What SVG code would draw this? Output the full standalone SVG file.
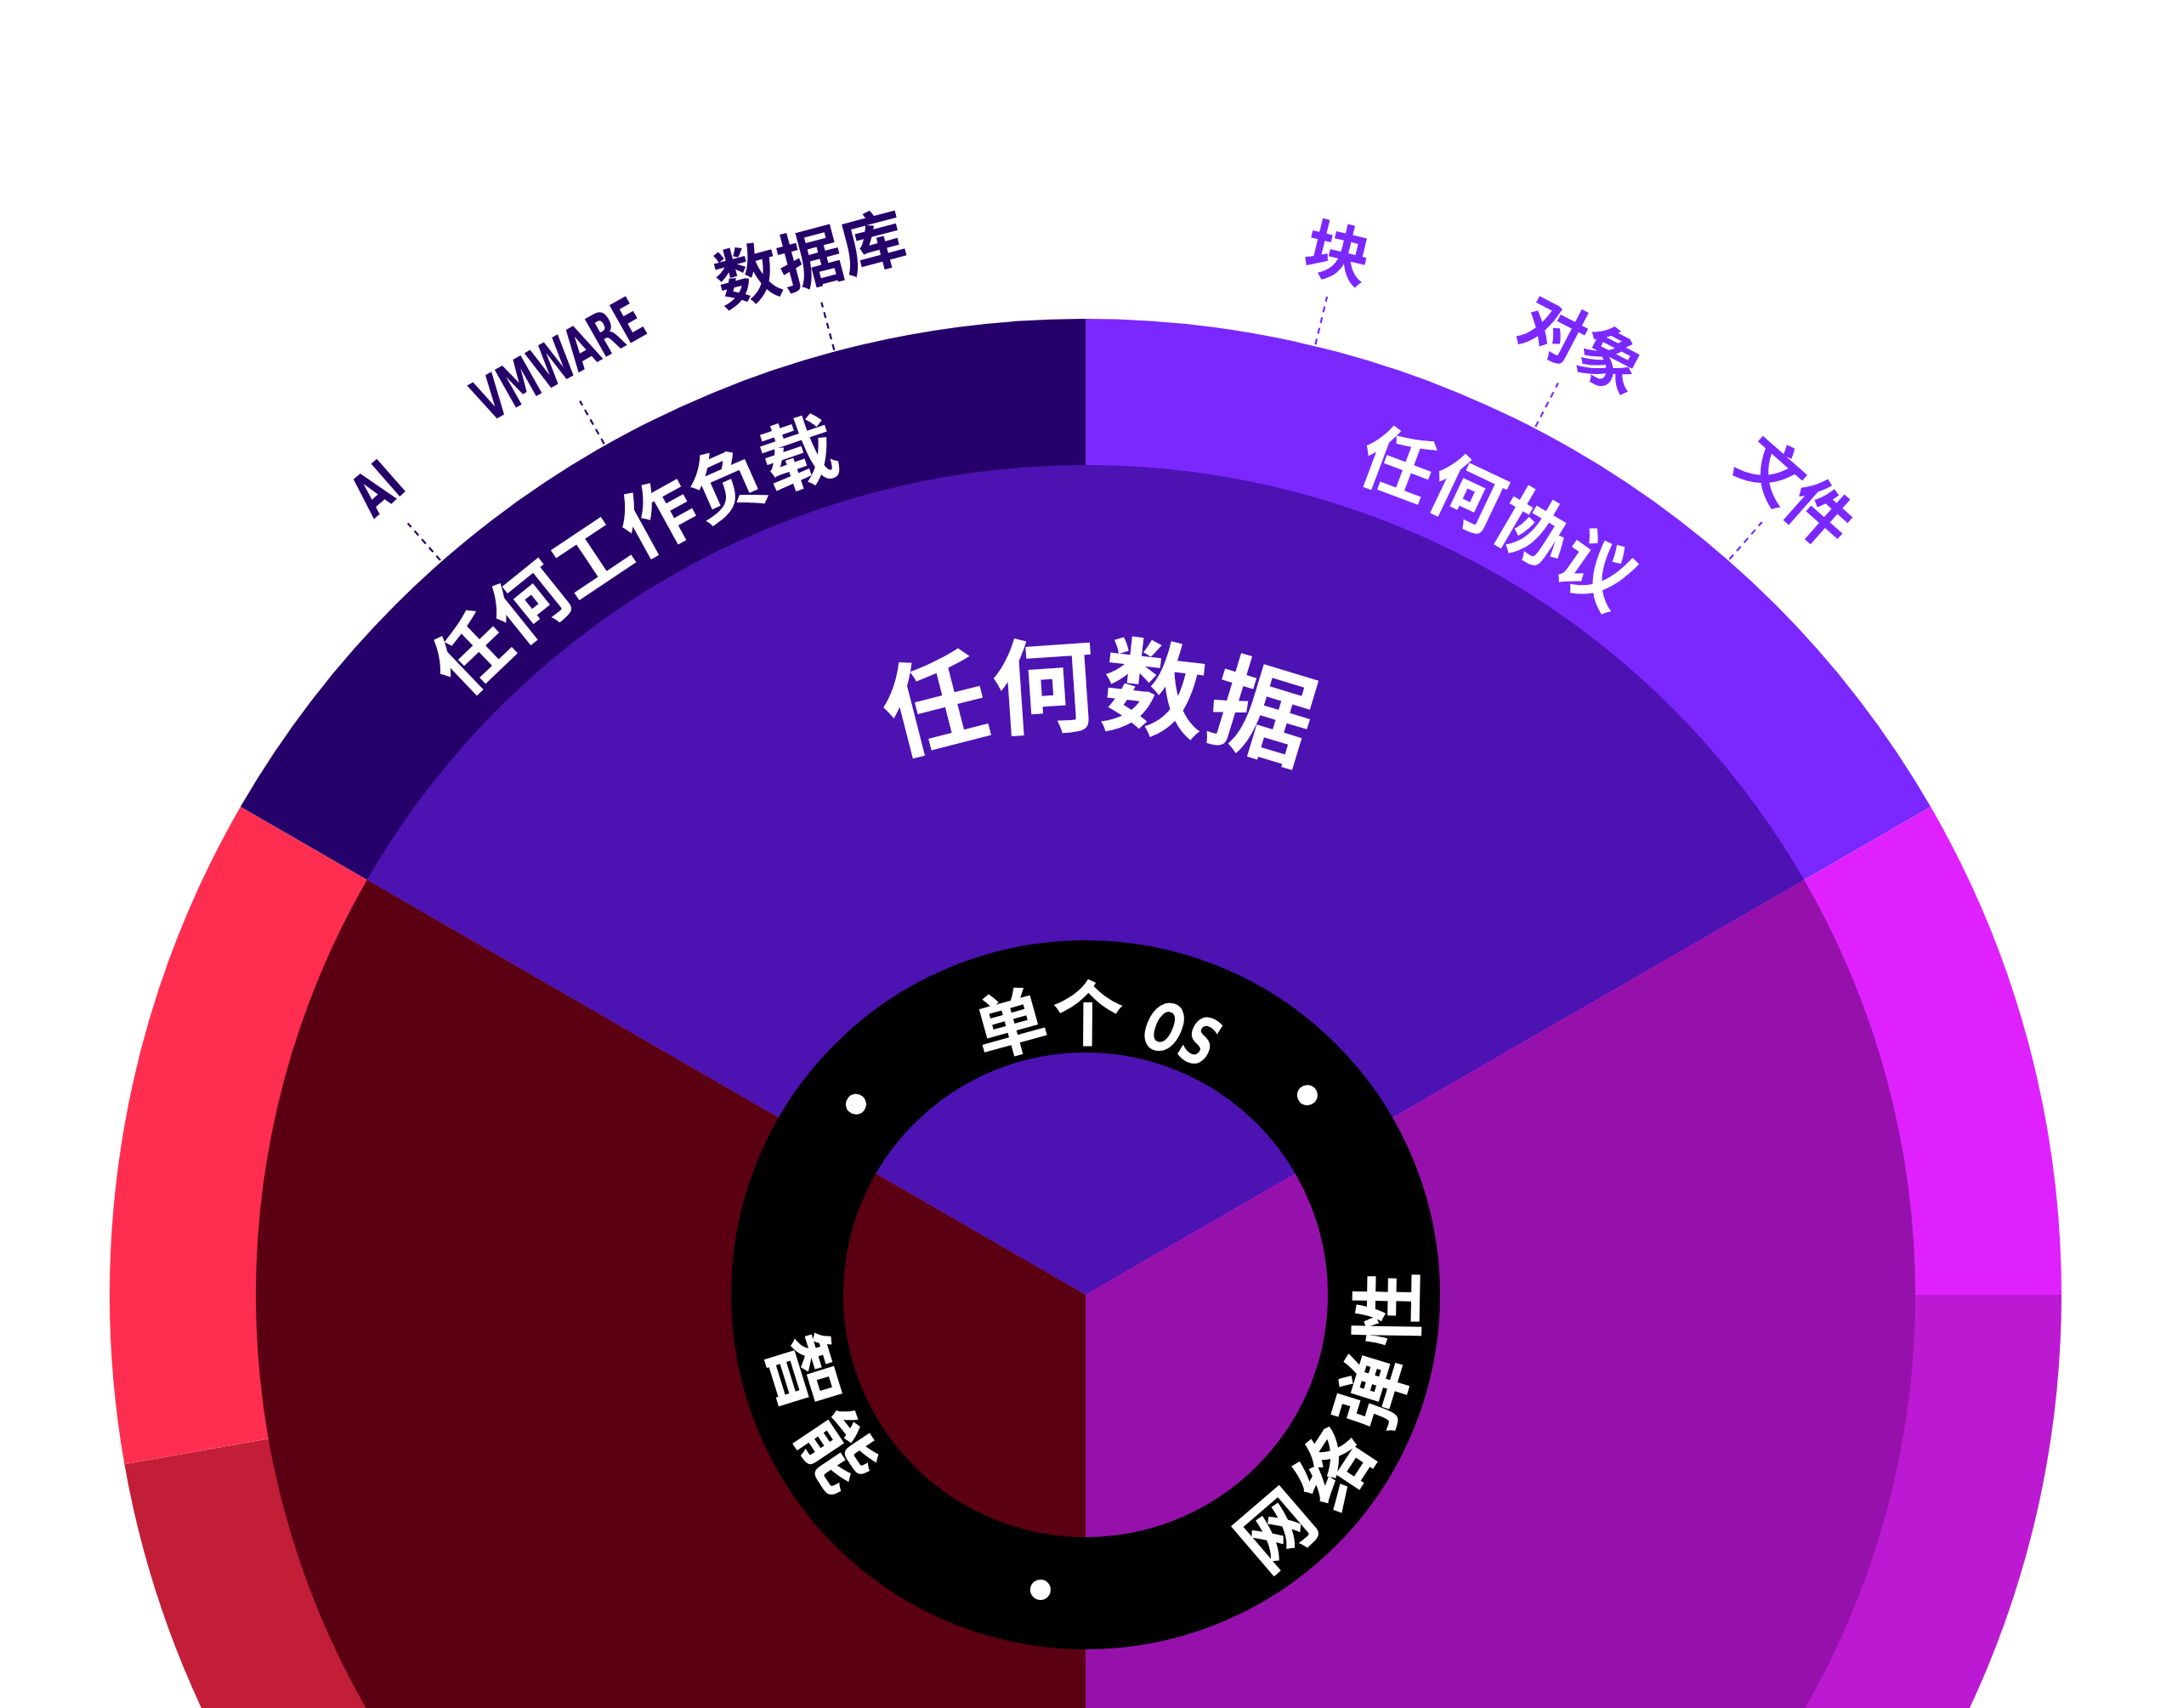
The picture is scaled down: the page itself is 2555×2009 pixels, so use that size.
<svg xmlns="http://www.w3.org/2000/svg" width="2555" height="2009" viewBox="0 0 2555 2009">
<style>
.cjk{font-family:"Noto Sans CJK SC","Noto Sans",sans-serif;font-weight:700}
.lat{font-family:"Liberation Sans Narrow","DejaVu Sans Condensed","Liberation Sans",sans-serif;font-weight:700}
.w{fill:#FFFFFF}
.lblL{fill:#26006A}
.lblR{fill:#7B28FF}
.leadL{stroke:#26006A;stroke-width:2.2;stroke-dasharray:7 6;fill:none}
.leadR{stroke:#7B28FF;stroke-width:2.2;stroke-dasharray:7 6;fill:none}
</style>
<defs>
<path id="pBand" d="M265,1523 A1012,1012 0 0 1 2289,1523"/>
<path id="pData" d="M605,1523 A672,672 0 0 1 1949,1523"/>
<path id="pRingTop" d="M977,1523 A300,300 0 0 1 1577,1523"/>
<path id="pRingBotL" d="M951.4,1335 A376,376 0 1 0 1602.6,1335"/>
<path id="pRingBotR" d="M941,1329 A388,388 0 1 0 1613,1329"/>
</defs>
<rect width="2555" height="2009" fill="#FFFFFF"/>
<g id="outer-band">
<path d="M1277,1523 L282.8,949 A1148,1148 0 0 1 1277,375 Z" fill="#26006A"/>
<path d="M1277,1523 L1277,375 A1148,1148 0 0 1 2271.2,949 Z" fill="#7B28FF"/>
<path d="M1277,1523 L2271.2,949 A1148,1148 0 0 1 2425,1523 Z" fill="#E021FF"/>
<path d="M1277,1523 L2425,1523 A1148,1148 0 0 1 1277,2671 Z" fill="#BB1AD2"/>
<path d="M1277,1523 L1277,2671 A1148,1148 0 0 1 146.4,1722.3 Z" fill="#C21E38"/>
<path d="M1277,1523 L146.4,1722.3 A1148,1148 0 0 1 282.8,949 Z" fill="#FF2E50"/>
</g>
<g id="inner-sectors">
<path d="M1277,1523 L431.7,1035 A976,976 0 0 1 2122.3,1035 Z" fill="#4D12B2"/>
<path d="M1277,1523 L2122.3,1035 A976,976 0 0 1 1277,2499 Z" fill="#9611AB"/>
<path d="M1277,1523 L1277,2499 A976,976 0 0 1 431.7,1035 Z" fill="#5A0012"/>
</g>
<g id="band-labels">
<text class="cjk w" font-size="88" text-anchor="middle"><textPath href="#pBand" startOffset="32.6%">任何工作负载</textPath></text>
<text class="cjk w" font-size="86" text-anchor="middle"><textPath href="#pBand" startOffset="65.5%">任何协议</textPath></text>
<text class="cjk w" font-size="122" text-anchor="middle"><textPath href="#pData" startOffset="50.7%">任何数据</textPath></text>
</g>
<g id="ring">
<circle cx="1277" cy="1523" r="351" fill="none" stroke="#000000" stroke-width="132"/>
<circle cx="1277" cy="1523" r="12" fill="#FFFFFF" transform="rotate(-50.3 1277 1523) translate(0 -351)"/>
<circle cx="1277" cy="1523" r="12" fill="#FFFFFF" transform="rotate(48 1277 1523) translate(0 -351)"/>
<circle cx="1277" cy="1523" r="12" fill="#FFFFFF" transform="rotate(188.7 1277 1523) translate(0 -351)"/>
<text class="cjk w" font-size="84"><textPath href="#pRingTop" startOffset="36.9%">单个<tspan class="lat" font-size="78" font-style="italic" textLength="102" lengthAdjust="spacingAndGlyphs"> OS</tspan></textPath></text>
<text class="cjk w" font-size="88" letter-spacing="21"><textPath href="#pRingBotL" startOffset="16.2%">智能</textPath></text>
<text class="cjk w" font-size="88" letter-spacing="21"><textPath href="#pRingBotR" startOffset="63.6%">网络弹性</textPath></text>
</g>
<g id="connectors">
<line class="leadL" x1="0" y1="-1150" x2="0" y2="-1208" transform="translate(1277 1523) rotate(-41.3)"/>
<line class="leadL" x1="0" y1="-1150" x2="0" y2="-1208" transform="translate(1277 1523) rotate(-29.5)"/>
<line class="leadL" x1="0" y1="-1150" x2="0" y2="-1208" transform="translate(1277 1523) rotate(-14.9)"/>
<line class="leadR" x1="0" y1="-1150" x2="0" y2="-1208" transform="translate(1277 1523) rotate(13.6)"/>
<line class="leadR" x1="0" y1="-1150" x2="0" y2="-1208" transform="translate(1277 1523) rotate(27.4)"/>
<line class="leadR" x1="0" y1="-1150" x2="0" y2="-1208" transform="translate(1277 1523) rotate(41.2)"/>
</g>
<g id="label-ai" transform="translate(1277 1523) rotate(-41.3)">
<text class="lat lblL" x="0" y="-1238" font-size="70" text-anchor="middle" textLength="54" lengthAdjust="spacingAndGlyphs">AI</text>
</g>
<g id="label-vmware" transform="translate(1277 1523) rotate(-29.4)">
<text class="lat lblL" x="0" y="-1238" font-size="70" text-anchor="middle" textLength="218" lengthAdjust="spacingAndGlyphs">VMWARE</text>
</g>
<g id="label-database" transform="translate(1277 1523) rotate(-14.9)">
<text class="cjk lblL" x="0" y="-1233" font-size="76" text-anchor="middle">数据库</text>
</g>
<g id="label-block" transform="translate(1277 1523) rotate(13.6)">
<text class="cjk lblR" x="0" y="-1233" font-size="76" text-anchor="middle">块</text>
</g>
<g id="label-object" transform="translate(1277 1523) rotate(27.6)">
<text class="cjk lblR" x="0" y="-1233" font-size="76" text-anchor="middle">对象</text>
</g>
<g id="label-file" transform="translate(1277 1523) rotate(41.5)">
<text class="cjk lblR" x="0" y="-1233" font-size="76" text-anchor="middle">文件</text>
</g>
</svg>
